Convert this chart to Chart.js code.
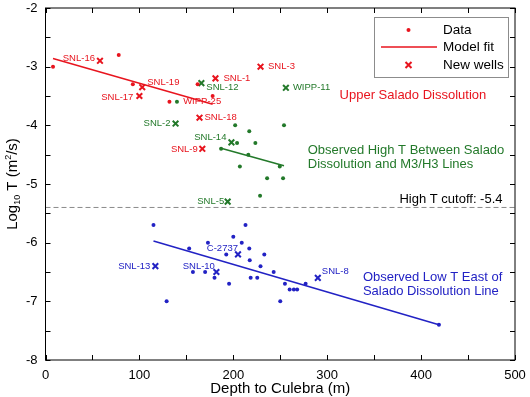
<!DOCTYPE html>
<html>
<head>
<meta charset="utf-8">
<script src="https://cdn.jsdelivr.net/npm/chart.js@4.4.1/dist/chart.umd.min.js"></script>
<style>
    html, body { margin: 0; padding: 0; background: #fff; }
</style>
</head>
<body>
<canvas id="myChart" width="530" height="397"></canvas>
<script>
// Upper Salado dissolution (red)
const redDepth = [8, 78, 93, 132, 162, 178];
const redLogT = [-3.0, -2.8, -3.3, -3.6, -3.3, -3.5];
const redFitDepth = [8, 178];
const redFitLogT = [-2.86, -3.64];
const redWells = ['SNL-16', 'SNL-19', 'SNL-17', 'SNL-1', 'SNL-3', 'SNL-18', 'SNL-9'];
const redWellDepth = [58, 103, 100, 181, 229, 164, 167];
const redWellLogT = [-2.9, -3.35, -3.5, -3.2, -3.0, -3.87, -4.4];

// High T between Salado dissolution and M3/H3 lines (green)
const greenDepth = [140, 187, 202, 204, 207, 216, 217, 223.5, 228.5, 236, 249.5, 253, 254];
const greenLogT = [-3.6, -4.4, -4.0, -4.3, -4.7, -4.5, -4.1, -4.3, -5.2, -4.9, -4.7, -4.9, -4.0];
const greenFitDepth = [187, 254];
const greenFitLogT = [-4.39, -4.69];
const greenWells = ['SNL-12', 'SNL-2', 'SNL-14', 'WIPP-11', 'SNL-5'];
const greenWellDepth = [166, 138.5, 198, 256, 194];
const greenWellLogT = [-3.28, -3.97, -4.29, -3.36, -5.3];

// Low T east of Salado dissolution line (blue)
const blueDepth = [115, 129, 153, 157, 170, 173, 180, 192.5, 195.5, 200, 209, 213, 217, 217.5, 218.5,
    225.5, 229, 233, 243, 250, 255, 260, 264.5, 268, 277, 419];
const blueLogT = [-5.7, -7.0, -6.1, -6.5, -6.5, -6.0, -6.6, -6.2, -6.7, -5.9, -6.0, -5.7, -6.1, -6.3, -6.6,
    -6.6, -6.4, -6.2, -6.5, -7.0, -6.7, -6.8, -6.8, -6.8, -6.7, -7.4];
const blueFitDepth = [115, 419];
const blueFitLogT = [-5.97, -7.4];
const blueWells = ['C-2737', 'SNL-10', 'SNL-13', 'SNL-8'];
const blueWellDepth = [205, 182, 117, 290];
const blueWellLogT = [-6.2, -6.5, -6.4, -6.6];

// High T cutoff
const cutoffDepth = [0, 500];
const cutoffLogT = -5.4;

const xTicks = [0, 100, 200, 300, 400, 500];
const yTicks = [-8, -7, -6, -5, -4, -3, -2];

const RED = '#e8141e';
const GREEN = '#23792a';
const BLUE = '#2222c4';
const FONT = "'Liberation Sans', Arial, sans-serif";

// label offsets in pixels: [dx, dy, align]
const labelPlacement = {
    'SNL-16': [-5, -2, 'right'],
    'SNL-19': [5, -5, 'left'],
    'SNL-17': [-6, 1, 'right'],
    'SNL-1': [8, 0, 'left'],
    'SNL-3': [7.5, 0, 'left'],
    'SNL-18': [5, 0, 'left'],
    'SNL-9': [-4.5, 0.5, 'right'],
    'SNL-12': [5, 4.5, 'left'],
    'SNL-2': [-5, 0, 'right'],
    'SNL-14': [-5, -4.5, 'right'],
    'WIPP-11': [7, 0, 'left'],
    'SNL-5': [-3.5, 0, 'right'],
    'C-2737': [0, -6.5, 'right'],
    'SNL-10': [-1.5, -6, 'right'],
    'SNL-13': [-5, 0, 'right'],
    'SNL-8': [4, -6.5, 'left'],
};

// free text notes, placed in data coordinates
const notes = [
    { lines: ['WIPP-25'], x: 146.6, y: -3.584, color: RED, size: 9.5, align: 'left' },
    { lines: ['Upper Salado Dissolution'], x: 391.3, y: -3.494, color: RED, size: 13, align: 'center' },
    { lines: ['Observed High T Between Salado', 'Dissolution and M3/H3 Lines'], x: 279.3, y: -4.431, color: GREEN, size: 13, align: 'left' },
    { lines: ['Observed Low T East of', 'Salado Dissolution Line'], x: 338, y: -6.595, color: BLUE, size: 13, align: 'left' },
    { lines: ['High T cutoff: -5.4'], x: 486.7, y: -5.271, color: '#000', size: 13, align: 'right' },
];

const pts = (xs, ys) => xs.map((v, i) => ({ x: v, y: Array.isArray(ys) ? ys[i] : ys }));

const dots = (xs, ys, color) => ({
    data: pts(xs, ys), showLine: false, pointStyle: 'circle', pointRadius: 2,
    backgroundColor: color, borderColor: color, borderWidth: 0
});
const fit = (xs, ys, color) => ({
    data: pts(xs, ys), showLine: true, pointRadius: 0, borderColor: color, borderWidth: 1.5
});
const crosses = (xs, ys, color) => ({
    data: pts(xs, ys), showLine: false, pointStyle: 'crossRot', pointRadius: 4,
    borderColor: color, backgroundColor: color, borderWidth: 2
});

const wellGroups = [
    [redWells, redWellDepth, redWellLogT, RED],
    [greenWells, greenWellDepth, greenWellLogT, GREEN],
    [blueWells, blueWellDepth, blueWellLogT, BLUE],
];

const overlay = {
    id: 'overlay',
    afterDatasetsDraw(chart) {
        const { ctx, chartArea: a, scales: { x, y } } = chart;
        ctx.save();

        // frame and inward ticks
        ctx.strokeStyle = '#000';
        ctx.lineWidth = 1;
        ctx.strokeRect(a.left, a.top, a.right - a.left, a.bottom - a.top);
        ctx.beginPath();
        for (let v = 0; v <= 500; v += 50) {
            const px = Math.round(x.getPixelForValue(v)) + 0.5;
            ctx.moveTo(px, a.bottom); ctx.lineTo(px, a.bottom - 5);
            ctx.moveTo(px, a.top); ctx.lineTo(px, a.top + 5);
        }
        for (let v = -8; v <= -2; v += 0.5) {
            const py = Math.round(y.getPixelForValue(v)) + 0.5;
            ctx.moveTo(a.left, py); ctx.lineTo(a.left + 5, py);
            ctx.moveTo(a.right, py); ctx.lineTo(a.right - 5, py);
        }
        ctx.stroke();

        // well labels
        ctx.textBaseline = 'middle';
        ctx.font = '9.5px ' + FONT;
        wellGroups.forEach(([names, xs, ys, color]) => {
            ctx.fillStyle = color;
            names.forEach((name, i) => {
                const [dx, dy, align] = labelPlacement[name];
                ctx.textAlign = align;
                ctx.fillText(name, x.getPixelForValue(xs[i]) + dx, y.getPixelForValue(ys[i]) + dy);
            });
        });

        // notes
        notes.forEach(n => {
            ctx.fillStyle = n.color;
            ctx.textAlign = n.align;
            ctx.font = n.size + 'px ' + FONT;
            n.lines.forEach((line, k) => {
                ctx.fillText(line, x.getPixelForValue(n.x), y.getPixelForValue(n.y) + k * 14);
            });
        });

        // legend
        ctx.fillStyle = '#fff';
        ctx.fillRect(374.5, 17.5, 134, 60);
        ctx.strokeStyle = '#8c8c8c';
        ctx.strokeRect(374.5, 17.5, 134, 60);
        ctx.fillStyle = RED;
        ctx.beginPath();
        ctx.arc(408.5, 30, 2, 0, Math.PI * 2);
        ctx.fill();
        ctx.strokeStyle = RED;
        ctx.lineWidth = 1.5;
        ctx.beginPath();
        ctx.moveTo(381, 47); ctx.lineTo(437, 47);
        ctx.stroke();
        ctx.lineWidth = 2;
        ctx.beginPath();
        ctx.moveTo(405.5, 62); ctx.lineTo(411.5, 68);
        ctx.moveTo(411.5, 62); ctx.lineTo(405.5, 68);
        ctx.stroke();
        ctx.fillStyle = '#000';
        ctx.textAlign = 'left';
        ctx.font = '13.5px ' + FONT;
        ctx.fillText('Data', 443, 30);
        ctx.fillText('Model fit', 443, 47);
        ctx.fillText('New wells', 443, 65);

        // y axis title with sub/superscript
        ctx.translate(17, 184);
        ctx.rotate(-Math.PI / 2);
        ctx.textBaseline = 'alphabetic';
        const parts = [['Log', 15, 0], ['10', 9, 3], [' T (m', 15, 0], ['2', 9, -6], ['/s)', 15, 0]];
        let total = 0;
        parts.forEach(p => { ctx.font = p[1] + 'px ' + FONT; total += ctx.measureText(p[0]).width; });
        let cx = -total / 2;
        parts.forEach(p => {
            ctx.font = p[1] + 'px ' + FONT;
            ctx.fillText(p[0], cx, p[2]);
            cx += ctx.measureText(p[0]).width;
        });
        ctx.restore();
    }
};

Chart.defaults.font.family = FONT;
Chart.defaults.color = '#000';

const cutoffStyle = {
    data: pts(cutoffDepth, cutoffLogT), showLine: true, pointRadius: 0,
    borderColor: '#8a8a8a', borderWidth: 1, borderDash: [5, 3]
};

new Chart(document.getElementById('myChart').getContext('2d'), {
    type: 'scatter',
    data: {
        datasets: [
            cutoffStyle,
            dots(redDepth, redLogT, RED),
            fit(redFitDepth, redFitLogT, RED),
            crosses(redWellDepth, redWellLogT, RED),
            dots(greenDepth, greenLogT, GREEN),
            fit(greenFitDepth, greenFitLogT, GREEN),
            crosses(greenWellDepth, greenWellLogT, GREEN),
            dots(blueDepth, blueLogT, BLUE),
            fit(blueFitDepth, blueFitLogT, BLUE),
            crosses(blueWellDepth, blueWellLogT, BLUE),
        ]
    },
    options: {
        responsive: false,
        animation: false,
        events: [],
        layout: { padding: { top: 8, right: 15, left: 0, bottom: 0 } },
        plugins: { legend: { display: false }, tooltip: { enabled: false } },
        scales: {
            x: {
                type: 'linear', min: xTicks[0], max: xTicks[xTicks.length - 1],
                afterBuildTicks: s => { s.ticks = xTicks.map(v => ({ value: v })); },
                ticks: { font: { size: 13 }, padding: 0, maxRotation: 0 },
                grid: { display: false },
                border: { display: false },
                title: { display: true, text: 'Depth to Culebra (m)', font: { size: 15 }, padding: { top: 0, bottom: -1 } },
                afterFit: s => { s.height = 37; s.paddingLeft = 0; s.paddingRight = 0; }
            },
            y: {
                type: 'linear', min: yTicks[0], max: yTicks[yTicks.length - 1],
                afterBuildTicks: s => { s.ticks = yTicks.map(v => ({ value: v })); },
                ticks: { font: { size: 13 }, padding: 0 },
                grid: { display: false },
                border: { display: false },
                afterFit: s => { s.width = 45.5; s.paddingTop = 0; s.paddingBottom = 0; }
            }
        }
    },
    plugins: [overlay]
});
</script>
</body>
</html>
